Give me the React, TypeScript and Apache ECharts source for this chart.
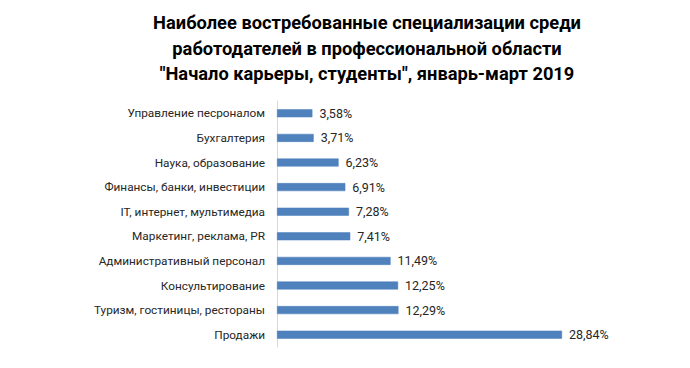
import React, { useEffect, useRef } from "react";
import * as echarts from "echarts";

const titleLines = [
  "Наиболее востребованные специализации среди",
  "работодателей в профессиональной области",
  "\"Начало карьеры, студенты\", январь-март 2019",
];

const categories = [
  "Управление песроналом",
  "Бухгалтерия",
  "Наука, образование",
  "Финансы, банки, инвестиции",
  "IT, интернет, мультимедиа",
  "Маркетинг, реклама, PR",
  "Административный персонал",
  "Консультирование",
  "Туризм, гостиницы, рестораны",
  "Продажи",
];

const values = [3.58, 3.71, 6.23, 6.91, 7.28, 7.41, 11.49, 12.25, 12.29, 28.84];

export default function App() {
  const ref = useRef<HTMLDivElement>(null);
  useEffect(() => {
    document.body.style.margin = "0";
    if (!ref.current) return;
    const chart = echarts.init(ref.current, null, { renderer: "svg" });
    chart.setOption({
      animation: false,
      backgroundColor: "#ffffff",
      title: {
        text: titleLines.join("\n"),
        left: 362,
        top: 5,
        textAlign: "center",
        textStyle: {
          fontFamily: "Roboto",
          fontWeight: "bold",
          fontSize: 18.3,
          lineHeight: 25.5,
          color: "#000000",
        },
      },
      grid: {
        left: 277,
        right: 116.5,
        top: 101,
        bottom: 21,
        containLabel: false,
      },
      xAxis: {
        type: "value",
        min: 0,
        max: 30,
        show: false,
      },
      yAxis: {
        type: "category",
        inverse: true,
        data: categories,
        axisLine: { show: true, lineStyle: { color: "#d9d9d9", width: 1 } },
        axisTick: { show: false },
        axisLabel: {
          margin: 12,
          fontFamily: "Roboto",
          fontSize: 11.8,
          color: "#262626",
        },
      },
      series: [
        {
          type: "bar",
          data: values,
          barWidth: 8,
          itemStyle: { color: "#4F81BD", borderColor: "#4A7EBB", borderWidth: 0.5 },
          label: {
            show: true,
            position: "right",
            distance: 7,
            fontFamily: "Roboto",
            fontSize: 12.5,
            color: "#262626",
            formatter: (p: any) => p.value.toFixed(2).replace(".", ",") + "%",
          },
        },
      ],
    });
    return () => chart.dispose();
  }, []);
  return <div ref={ref} style={{ width: 690, height: 368 }} />;
}
